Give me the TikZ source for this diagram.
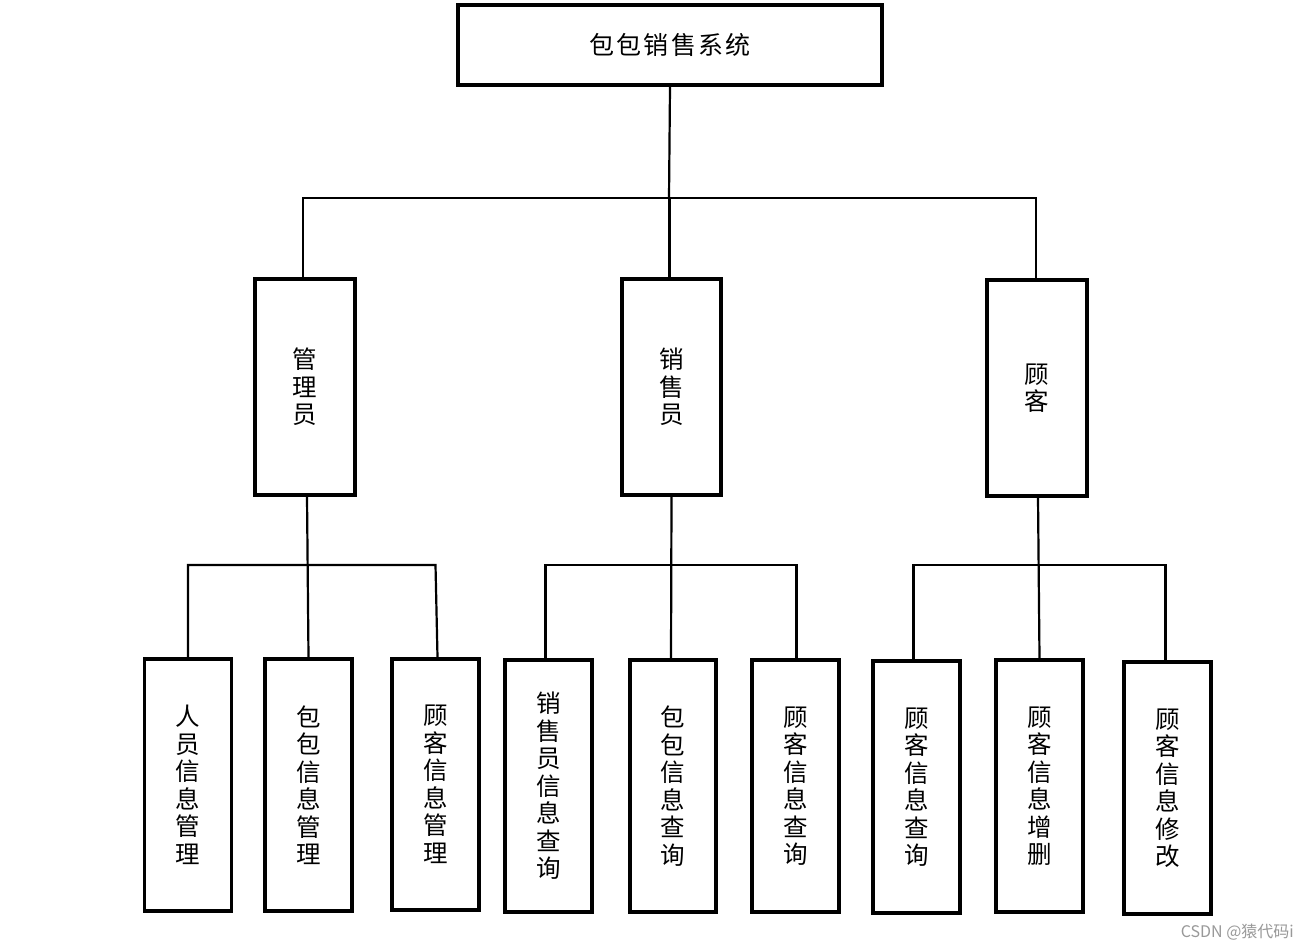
\documentclass[tikz,border=0pt]{standalone}
\usepackage{fontspec}
\newfontfamily\cjk{Noto Sans CJK SC}
\begin{document}
\begin{tikzpicture}[x=1pt,y=-1pt,
  box/.style={draw,line width=3.2pt,inner sep=0pt,align=center,font=\cjk\fontsize{24.5}{27.5}\selectfont},
  conn/.style={line width=2.2pt}]
\useasboundingbox[fill=white] (0,0) rectangle (1308,950);
% top
\node[box,minimum width=424pt,minimum height=80pt,font=\cjk\fontsize{25}{28}\selectfont] (top) at (670,45) {包\hspace{2.2pt}包\hspace{2.2pt}销\hspace{2.2pt}售\hspace{2.2pt}系\hspace{2.2pt}统};
% level 2
\node[box,minimum width=100pt,minimum height=216pt] (a) at (305,387) {管\\理\\员};
\node[box,minimum width=99pt,minimum height=216pt] (b) at (671.5,387) {销\\售\\员};
\node[box,minimum width=100pt,minimum height=216pt] (c) at (1037,388) {顾\\客};
% level 3
\node[box,minimum width=87pt,minimum height=252pt] (a1) at (188,785) {人\\员\\信\\息\\管\\理};
\node[box,minimum width=87pt,minimum height=252pt] (a2) at (308.5,785) {包\\包\\信\\息\\管\\理};
\node[box,minimum width=87pt,minimum height=251pt] (a3) at (435.5,784.5) {顾\\客\\信\\息\\管\\理};
\node[box,minimum width=87pt,minimum height=252pt] (b1) at (548.5,786) {销\\售\\员\\信\\息\\查\\询};
\node[box,minimum width=86pt,minimum height=252pt] (b2) at (673,786) {包\\包\\信\\息\\查\\询};
\node[box,minimum width=87pt,minimum height=252pt] (b3) at (795.5,786) {顾\\客\\信\\息\\查\\询};
\node[box,minimum width=87pt,minimum height=252pt] (c1) at (916.5,787) {顾\\客\\信\\息\\查\\询};
\node[box,minimum width=87pt,minimum height=252pt] (c2) at (1039.5,786) {顾\\客\\信\\息\\增\\删};
\node[box,minimum width=87pt,minimum height=252pt] (c3) at (1167.5,788) {顾\\客\\信\\息\\修\\改};
% connectors level 1
\coordinate (bus0) at (669,198);
\draw[conn] (top.south) -- (bus0);
\draw[conn] ([xshift=-2pt]a.north) |- (bus0);
\draw[conn] ([xshift=-1pt]c.north) |- (bus0);
\draw[conn] ([xshift=-2pt]b.north) -- ([xshift=-2pt]b.north |- bus0);
% connectors level 2
\coordinate (busy) at (0,565);
\draw[conn] ([xshift=2pt]a.south) -- (a2.north);
\draw[conn] (a1.north) |- (a3.north |- busy) -- ([xshift=2pt]a3.north);
\draw[conn] (b.south) -- ([xshift=-2pt]b2.north);
\draw[conn] ([xshift=-3pt]b1.north) |- ([xshift=1pt]b3.north |- busy) -- ([xshift=1pt]b3.north);
\draw[conn] ([xshift=1pt]c.south) -- (c2.north);
\draw[conn] ([xshift=-3pt]c1.north) |- ([xshift=-2pt]c3.north |- busy) -- ([xshift=-2pt]c3.north);
% watermark
\node[font=\cjk\fontsize{16}{18}\selectfont,text=black!40,anchor=east,inner sep=0pt] (wm) at (1294,932) {CSDN @猿代码i};
\end{tikzpicture}
\end{document}
